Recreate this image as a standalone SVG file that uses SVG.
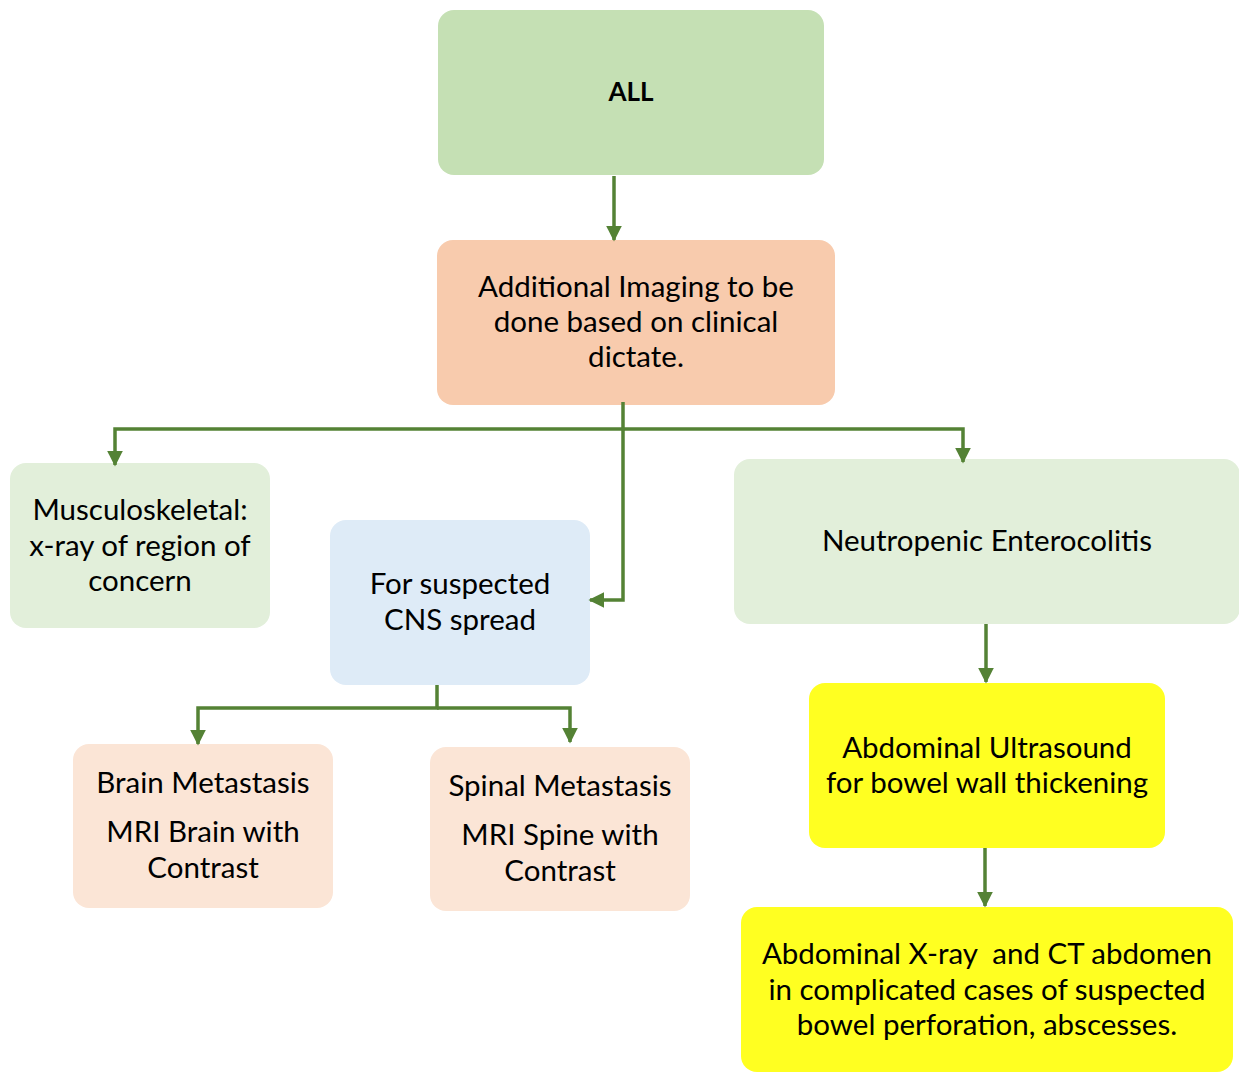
<svg xmlns="http://www.w3.org/2000/svg" width="1239" height="1080" viewBox="0 0 1239 1080">
<style>
text{font-family:Lato,"Open Sans","Liberation Sans",sans-serif;font-size:29.5px;fill:#000;text-anchor:middle}
.b{font-weight:bold;font-size:26px}
.c{fill:none;stroke:#548235;stroke-width:3.5}
</style>
<defs>
<marker id="ah" viewBox="0 0 10 10" refX="9" refY="5" markerWidth="4.5" markerHeight="4.5" markerUnits="strokeWidth" orient="auto"><path d="M0,0L10,5L0,10z" fill="#548235"/></marker>
</defs>
<rect width="1239" height="1080" fill="#fff"/>
<g id="n-all"><rect x="438" y="10" width="386" height="165" rx="16" fill="#C5E0B4"/><text class="b" x="631" y="101">ALL</text></g>
<g id="n-add"><rect x="437" y="240" width="398" height="165" rx="16" fill="#F8CBAD"/><text x="636" y="297">Additional Imaging to be</text><text x="636" y="332">done based on clinical</text><text x="636" y="367">dictate.</text></g>
<g id="n-msk"><rect x="10" y="463" width="260" height="165" rx="16" fill="#E2EFDA"/><text x="140" y="520">Musculoskeletal:</text><text x="140" y="556">x-ray of region of</text><text x="140" y="591">concern</text></g>
<g id="n-cns"><rect x="330" y="520" width="260" height="165" rx="16" fill="#DEEBF7"/><text x="460" y="594">For suspected</text><text x="460" y="630">CNS spread</text></g>
<g id="n-neu"><rect x="734" y="459" width="506" height="165" rx="16" fill="#E2EFDA"/><text x="987" y="551">Neutropenic Enterocolitis</text></g>
<g id="n-us"><rect x="809" y="683" width="356" height="165" rx="16" fill="#FFFF21"/><text x="987" y="758">Abdominal Ultrasound</text><text x="987" y="793">for bowel wall thickening</text></g>
<g id="n-ct"><rect x="741" y="907" width="492" height="165" rx="16" fill="#FFFF21"/><text x="987" y="964" xml:space="preserve">Abdominal X-ray  and CT abdomen</text><text x="987" y="1000">in complicated cases of suspected</text><text x="987" y="1035">bowel perforation, abscesses.</text></g>
<g id="n-brain"><rect x="73" y="744" width="260" height="164" rx="16" fill="#FBE5D6"/><text x="203" y="793">Brain Metastasis</text><text x="203" y="842">MRI Brain with</text><text x="203" y="878">Contrast</text></g>
<g id="n-spine"><rect x="430" y="747" width="260" height="164" rx="16" fill="#FBE5D6"/><text x="560" y="796">Spinal Metastasis</text><text x="560" y="845">MRI Spine with</text><text x="560" y="881">Contrast</text></g>
<g id="connectors">
<path class="c" d="M614,176V240" marker-end="url(#ah)"/>
<path class="c" d="M623,402V429H115V465" marker-end="url(#ah)"/>
<path class="c" d="M623,429H963V462" marker-end="url(#ah)"/>
<path class="c" d="M623,429V600H590" marker-end="url(#ah)"/>
<path class="c" d="M437,685V708H198V744" marker-end="url(#ah)"/>
<path class="c" d="M437,708H570V742" marker-end="url(#ah)"/>
<path class="c" d="M986,624V682" marker-end="url(#ah)"/>
<path class="c" d="M985,848V906" marker-end="url(#ah)"/>
</g>
</svg>
